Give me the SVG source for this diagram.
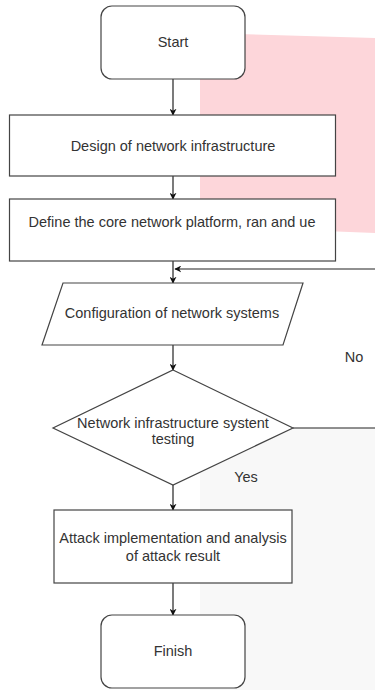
<svg xmlns="http://www.w3.org/2000/svg" width="375" height="690" viewBox="0 0 375 690">
  <defs>
    <marker id="arrow" viewBox="0 0 10 10" refX="9" refY="5" markerWidth="7" markerHeight="7" orient="auto" markerUnits="userSpaceOnUse">
      <path d="M0,0 L10,5 L0,10 L3,5 Z" fill="#111"/>
    </marker>
    <style>
      .shape { fill: #fff; stroke: #444; stroke-width: 1.2; }
      .lbl { font-family: "Liberation Sans", Arial, sans-serif; font-size: 14.5px; fill: #333; text-anchor: middle; }
      .edge { fill: none; stroke: #222; stroke-width: 1.2; }
      .flow { fill: none; stroke: #222; stroke-width: 1.2; marker-end: url(#arrow); }
    </style>
  </defs>

  <rect width="375" height="690" fill="#fff"/>
  <!-- background panels -->
  <polygon points="200,33 375,38 375,233 200,226" fill="#fdd6da"/>
  <rect x="200" y="428" width="175" height="262" fill="#f8f8f8"/>

  <g id="connectors">
    <line class="flow" x1="173" y1="79" x2="173" y2="115"/>
    <line class="flow" x1="173" y1="176" x2="173" y2="199"/>
    <line class="flow" x1="173" y1="261" x2="173" y2="283"/>
    <line class="flow" x1="375" y1="269" x2="175" y2="269"/>
    <line class="flow" x1="173" y1="345" x2="173" y2="370"/>
    <line class="edge" x1="293" y1="428" x2="375" y2="428"/>
    <line class="flow" x1="173" y1="485" x2="173" y2="510"/>
    <line class="flow" x1="173" y1="583" x2="173" y2="615"/>
    <text class="lbl" x="354" y="362">No</text>
    <text class="lbl" x="246" y="482">Yes</text>
  </g>

  <g id="start">
    <rect class="shape" x="101" y="6" width="144" height="73" rx="11"/>
    <text class="lbl" x="173" y="47">Start</text>
  </g>

  <g id="design">
    <rect class="shape" x="9.5" y="115" width="326" height="61"/>
    <text class="lbl" x="173" y="151">Design of network infrastructure</text>
  </g>

  <g id="define">
    <rect class="shape" x="9.5" y="199" width="326" height="62"/>
    <text class="lbl" x="172" y="227">Define the core network platform, ran and ue</text>
  </g>

  <g id="configure">
    <polygon class="shape" points="63,283 303,283 283,345 42,345"/>
    <text class="lbl" x="172" y="318">Configuration of network systems</text>
  </g>

  <g id="testing">
    <polygon class="shape" points="173,370 293,428 173,485 53,428"/>
    <text class="lbl" x="173" y="428">Network infrastructure systent</text>
    <text class="lbl" x="173" y="444">testing</text>
  </g>

  <g id="attack">
    <rect class="shape" x="54" y="510" width="238" height="73"/>
    <text class="lbl" x="173" y="543">Attack implementation and analysis</text>
    <text class="lbl" x="173" y="561">of attack result</text>
  </g>

  <g id="finish">
    <rect class="shape" x="101" y="615" width="144" height="73" rx="11"/>
    <text class="lbl" x="173" y="656">Finish</text>
  </g>
</svg>
